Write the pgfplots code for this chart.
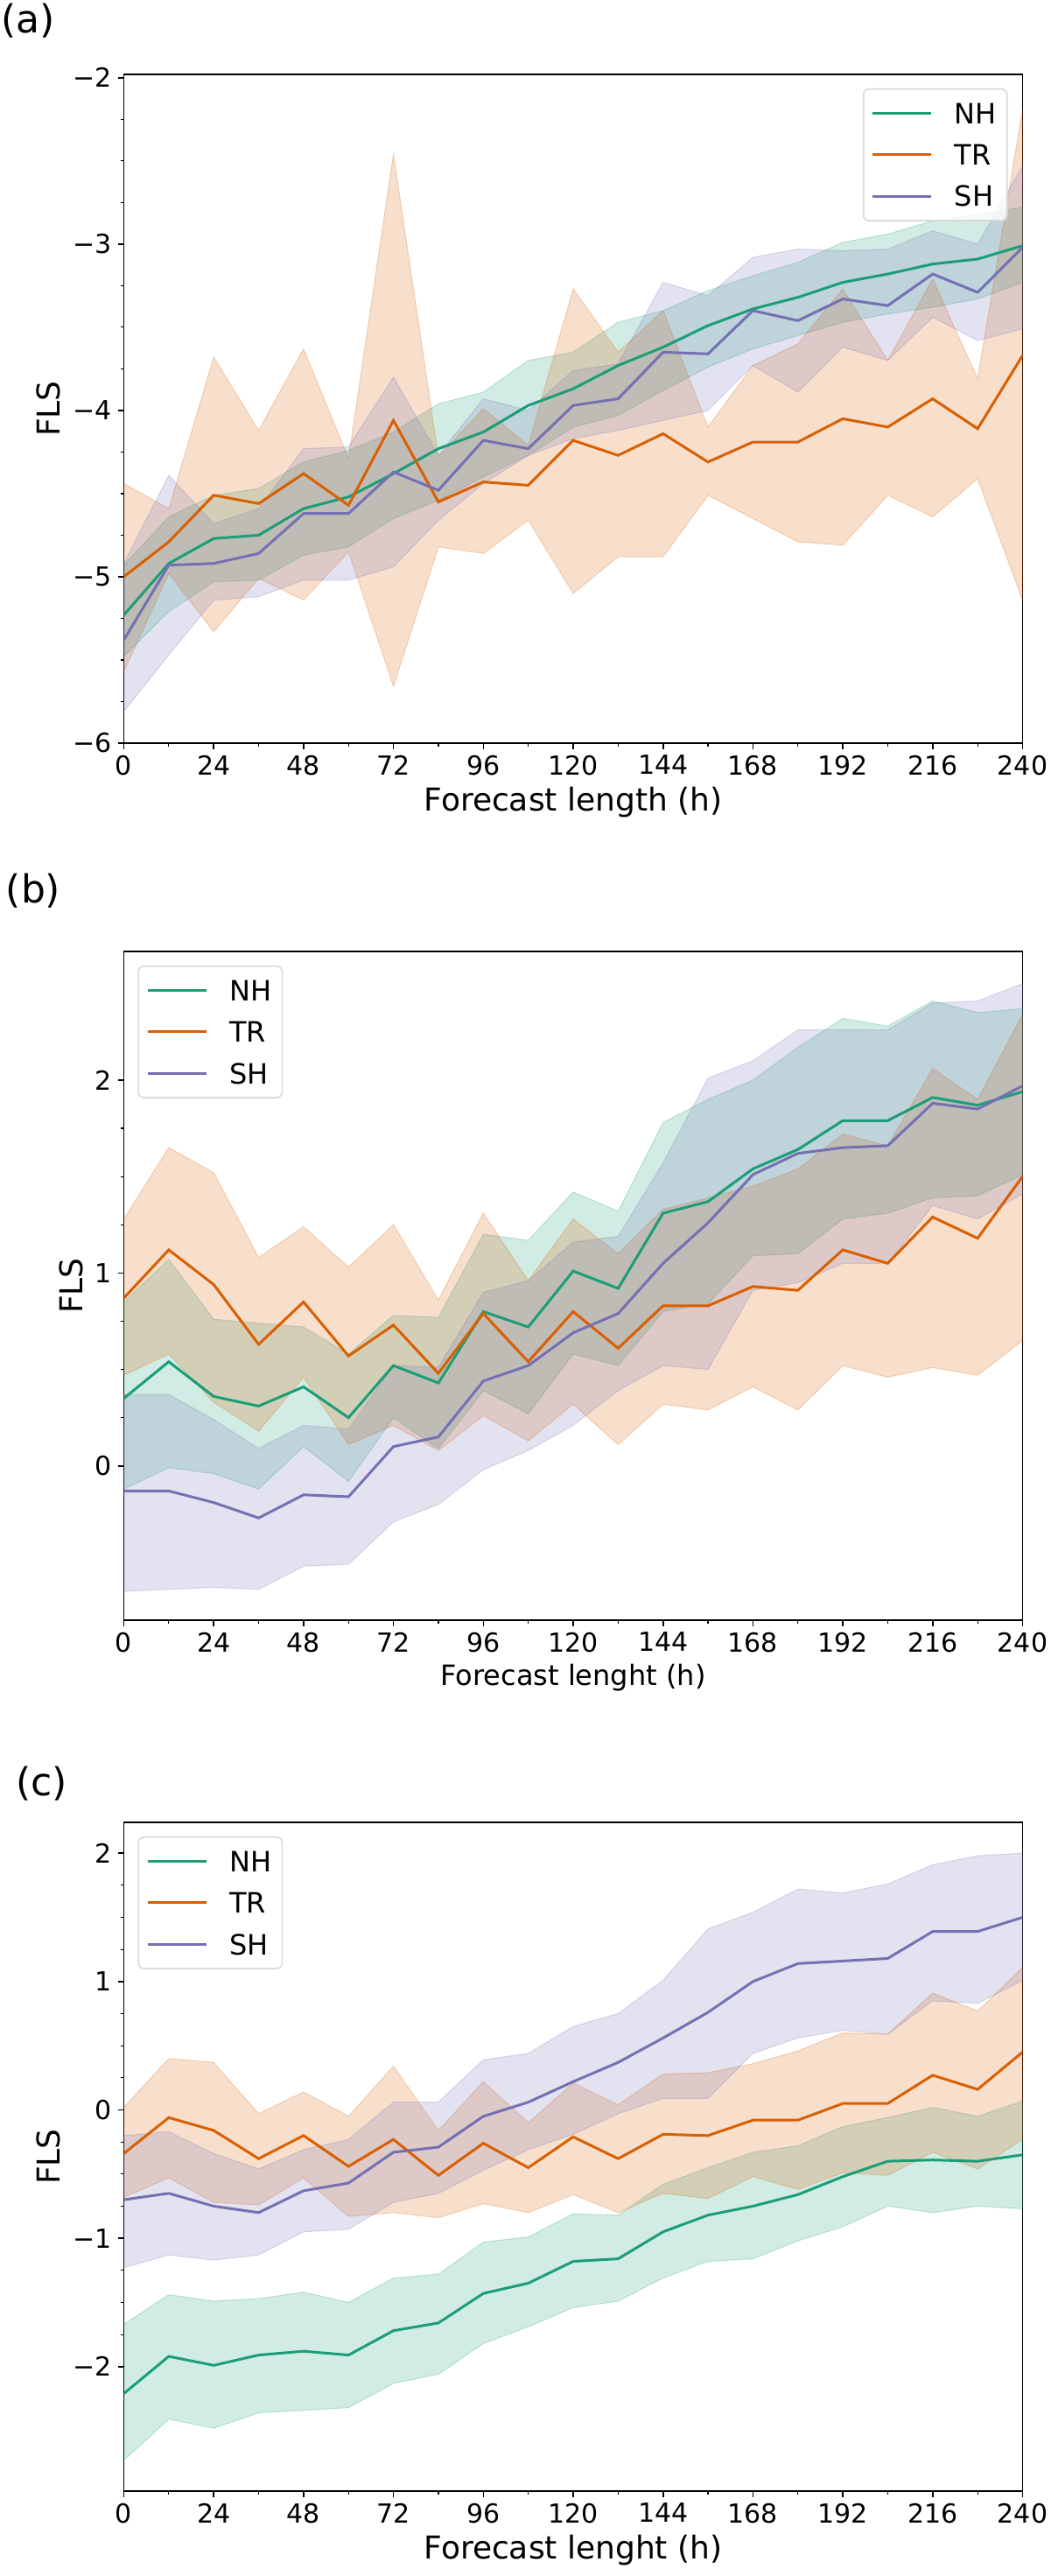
\documentclass[border=0pt]{standalone}
\usepackage{fontspec}
\setmainfont{DejaVu Sans}
\usepackage{pgfplots}
\usepackage{pgfplotstable}
\pgfplotsset{compat=1.18}
\usepgfplotslibrary{fillbetween}
\definecolor{nhc}{HTML}{1B9E77}
\definecolor{trc}{HTML}{D95F02}
\definecolor{shc}{HTML}{7570B3}

\pgfplotstableread{
x NHm NHu NHl TRm TRu TRl SHm SHu SHl
0 -5.23 -4.93 -5.48 -5.00 -4.44 -5.57 -5.38 -4.92 -5.81
12 -4.92 -4.64 -5.21 -4.79 -4.59 -4.98 -4.93 -4.39 -5.47
24 -4.77 -4.51 -5.03 -4.51 -3.68 -5.33 -4.92 -4.68 -5.14
36 -4.75 -4.47 -5.02 -4.56 -4.12 -5.01 -4.86 -4.59 -5.12
48 -4.59 -4.31 -4.87 -4.38 -3.63 -5.14 -4.62 -4.23 -5.02
60 -4.52 -4.24 -4.82 -4.57 -4.29 -4.85 -4.62 -4.22 -5.02
72 -4.38 -4.13 -4.65 -4.06 -2.46 -5.66 -4.37 -3.80 -4.94
84 -4.23 -3.96 -4.54 -4.55 -4.28 -4.82 -4.48 -4.27 -4.66
96 -4.13 -3.89 -4.40 -4.43 -3.99 -4.86 -4.18 -3.93 -4.44
108 -3.97 -3.70 -4.27 -4.45 -4.21 -4.66 -4.23 -4.00 -4.27
120 -3.87 -3.65 -4.10 -4.18 -3.27 -5.10 -3.97 -3.76 -4.17
132 -3.73 -3.47 -4.03 -4.27 -3.65 -4.88 -3.93 -3.72 -4.12
144 -3.62 -3.40 -3.88 -4.14 -3.40 -4.88 -3.65 -3.23 -4.06
156 -3.49 -3.28 -3.74 -4.31 -4.10 -4.51 -3.66 -3.31 -4.00
168 -3.39 -3.19 -3.63 -4.19 -3.73 -4.65 -3.40 -3.08 -3.73
180 -3.32 -3.11 -3.55 -4.19 -3.60 -4.79 -3.46 -3.03 -3.89
192 -3.23 -2.99 -3.47 -4.05 -3.27 -4.81 -3.33 -3.04 -3.62
204 -3.18 -2.94 -3.42 -4.10 -3.70 -4.51 -3.37 -3.03 -3.70
216 -3.12 -2.86 -3.38 -3.93 -3.21 -4.64 -3.18 -2.92 -3.44
228 -3.09 -2.82 -3.33 -4.11 -3.81 -4.41 -3.29 -3.00 -3.58
240 -3.01 -2.78 -3.23 -3.67 -2.19 -5.14 -3.02 -2.53 -3.51
}\dataA

\pgfplotstableread{
x NHm NHu NHl TRm TRu TRl SHm SHu SHl
0 0.35 0.85 -0.12 0.87 1.28 0.47 -0.13 0.37 -0.65
12 0.54 1.07 -0.01 1.12 1.65 0.58 -0.13 0.37 -0.64
24 0.36 0.76 -0.04 0.94 1.52 0.33 -0.19 0.24 -0.63
36 0.31 0.74 -0.12 0.63 1.08 0.18 -0.27 0.09 -0.64
48 0.41 0.72 0.10 0.85 1.24 0.46 -0.15 0.21 -0.52
60 0.25 0.58 -0.08 0.57 1.03 0.11 -0.16 0.19 -0.51
72 0.52 0.78 0.25 0.73 1.25 0.21 0.10 0.52 -0.29
84 0.43 0.77 0.09 0.48 0.86 0.08 0.15 0.51 -0.20
96 0.80 1.20 0.39 0.79 1.31 0.26 0.44 0.90 -0.02
108 0.72 1.17 0.27 0.54 0.96 0.13 0.52 0.96 0.08
120 1.01 1.42 0.58 0.80 1.28 0.32 0.69 1.16 0.21
132 0.92 1.32 0.52 0.61 1.10 0.11 0.79 1.19 0.39
144 1.31 1.78 0.80 0.83 1.33 0.32 1.05 1.57 0.52
156 1.37 1.90 0.84 0.83 1.39 0.29 1.26 2.01 0.50
168 1.54 2.00 1.09 0.93 1.45 0.41 1.51 2.10 0.91
180 1.64 2.17 1.10 0.91 1.54 0.29 1.62 2.26 0.95
192 1.79 2.32 1.28 1.12 1.72 0.52 1.65 2.26 1.05
204 1.79 2.28 1.31 1.05 1.66 0.46 1.66 2.26 1.05
216 1.91 2.41 1.39 1.29 2.06 0.51 1.88 2.40 1.35
228 1.87 2.35 1.40 1.18 1.90 0.47 1.85 2.41 1.28
240 1.94 2.37 1.51 1.50 2.34 0.65 1.97 2.50 1.41
}\dataB

\pgfplotstableread{
x NHm NHu NHl TRm TRu TRl SHm SHu SHl
0 -2.21 -1.67 -2.73 -0.34 0.02 -0.68 -0.70 -0.20 -1.23
12 -1.92 -1.44 -2.41 -0.06 0.40 -0.53 -0.65 -0.17 -1.13
24 -1.99 -1.49 -2.48 -0.16 0.37 -0.72 -0.75 -0.34 -1.17
36 -1.91 -1.47 -2.36 -0.38 -0.03 -0.74 -0.80 -0.46 -1.13
48 -1.88 -1.42 -2.34 -0.20 0.14 -0.53 -0.63 -0.31 -0.95
60 -1.91 -1.50 -2.32 -0.44 -0.05 -0.83 -0.57 -0.23 -0.93
72 -1.72 -1.31 -2.13 -0.23 0.34 -0.80 -0.33 0.06 -0.72
84 -1.66 -1.28 -2.06 -0.51 -0.16 -0.84 -0.29 0.06 -0.65
96 -1.43 -1.03 -1.82 -0.26 0.22 -0.73 -0.05 0.39 -0.47
108 -1.35 -0.99 -1.69 -0.45 -0.10 -0.80 0.06 0.44 -0.31
120 -1.18 -0.81 -1.54 -0.21 0.21 -0.66 0.22 0.65 -0.19
132 -1.16 -0.82 -1.49 -0.38 0.04 -0.80 0.37 0.75 -0.03
144 -0.95 -0.58 -1.31 -0.19 0.28 -0.65 0.56 1.01 0.09
156 -0.82 -0.45 -1.18 -0.20 0.29 -0.69 0.76 1.41 0.09
168 -0.75 -0.33 -1.16 -0.08 0.36 -0.52 1.00 1.54 0.44
180 -0.66 -0.28 -1.02 -0.08 0.46 -0.62 1.14 1.72 0.56
192 -0.52 -0.13 -0.91 0.05 0.60 -0.49 1.16 1.69 0.62
204 -0.40 -0.06 -0.75 0.05 0.59 -0.51 1.18 1.76 0.59
216 -0.39 0.02 -0.80 0.27 0.91 -0.33 1.39 1.91 0.85
228 -0.40 -0.05 -0.75 0.16 0.77 -0.46 1.39 1.98 0.83
240 -0.35 0.07 -0.77 0.45 1.11 -0.23 1.50 2.00 1.01
}\dataC

\pgfplotsset{
  flsaxis/.style={
    width=513.5pt, height=382pt, scale only axis,
    xmin=0, xmax=240, xtick={0,24,...,240}, minor x tick num=1,
    minor y tick num=3,
    tick align=outside, xtick pos=bottom, ytick pos=left,
    major tick length=3.5pt, minor tick length=2pt,
    tick style={black, line width=0.8pt},
    minor tick style={line width=0.6pt},
    axis line style={line width=0.8pt, black},
    tick label style={font=\fontsize{15}{18}\selectfont},
    /pgf/number format/assume math mode=true,
    label style={font=\fontsize{18}{21}\selectfont},
    ylabel={FLS},
    legend cell align=left,
    legend style={draw=black!15, line width=0.8pt, rounded corners=3pt, fill=white,
      fill opacity=0.8, text opacity=1, draw opacity=1,
      font=\fontsize{16}{19}\selectfont,
      inner xsep=4.5pt, inner ysep=6.5pt,
      nodes={inner sep=1.5pt, text height=11.7pt, text depth=0pt},
      row sep=9pt},
    legend image code/.code={\draw[#1, line width=1.5pt] (0pt,0pt) -- (33.5pt,0pt); \path (44.5pt,0pt);},
  },
  band/.style={fill=#1, fill opacity=0.2, draw=#1, draw opacity=0.25, line width=0.5pt},
  mline/.style={#1, line width=1.5pt},
}

\newcommand{\bands}[1]{%
  \addplot[draw=none, name path=NHu, forget plot] table[x=x,y=NHu]{#1};
  \addplot[draw=none, name path=NHl, forget plot] table[x=x,y=NHl]{#1};
  \addplot[draw=none, name path=TRu, forget plot] table[x=x,y=TRu]{#1};
  \addplot[draw=none, name path=TRl, forget plot] table[x=x,y=TRl]{#1};
  \addplot[draw=none, name path=SHu, forget plot] table[x=x,y=SHu]{#1};
  \addplot[draw=none, name path=SHl, forget plot] table[x=x,y=SHl]{#1};
  \addplot[band=nhc, forget plot] fill between[of=NHu and NHl];
  \addplot[band=trc, forget plot] fill between[of=TRu and TRl];
  \addplot[band=shc, forget plot] fill between[of=SHu and SHl];
  \addplot[mline=nhc] table[x=x,y=NHm]{#1}; \addlegendentry{NH}
  \addplot[mline=trc] table[x=x,y=TRm]{#1}; \addlegendentry{TR}
  \addplot[mline=shc] table[x=x,y=SHm]{#1}; \addlegendentry{SH}
}

\begin{document}
\begin{tikzpicture}
\node[font=\fontsize{22}{26}\selectfont] at (16pt,-12pt) {(a)};
\node[font=\fontsize{22}{26}\selectfont] at (19pt,-509pt) {(b)};
\node[font=\fontsize{22}{26}\selectfont] at (23.75pt,-1019pt) {(c)};

\begin{axis}[flsaxis, at={(70.75pt,-42.5pt)}, anchor=north west,
  ymin=-6, ymax=-1.98, ytick={-6,-5,-4,-3,-2}, yticklabels={−6,−5,−4,−3,−2},
  xlabel={Forecast length (h)},
  legend style={at={(1,1)}, anchor=north east, xshift=-8.5pt, yshift=-8pt}]
\bands{\dataA}
\end{axis}

\begin{axis}[flsaxis, at={(70.75pt,-543.5pt)}, anchor=north west,
  ymin=-0.80, ymax=2.667, ytick={0,1,2}, yticklabels={0,1,2},
  xlabel={Forecast lenght (h)}, xlabel style={font=\fontsize{16}{19}\selectfont},
  legend style={at={(0,1)}, anchor=north west, xshift=8pt, yshift=-8pt}]
\bands{\dataB}
\end{axis}

\begin{axis}[flsaxis, at={(70.75pt,-1041pt)}, anchor=north west,
  ymin=-2.97, ymax=2.24, ytick={-2,-1,0,1,2}, yticklabels={−2,−1,0,1,2},
  xlabel={Forecast lenght (h)},
  legend style={at={(0,1)}, anchor=north west, xshift=8pt, yshift=-8pt}]
\bands{\dataC}
\end{axis}
\pgfresetboundingbox
\useasboundingbox (0,0) rectangle (600pt,-1471.5pt);
\end{tikzpicture}
\end{document}
